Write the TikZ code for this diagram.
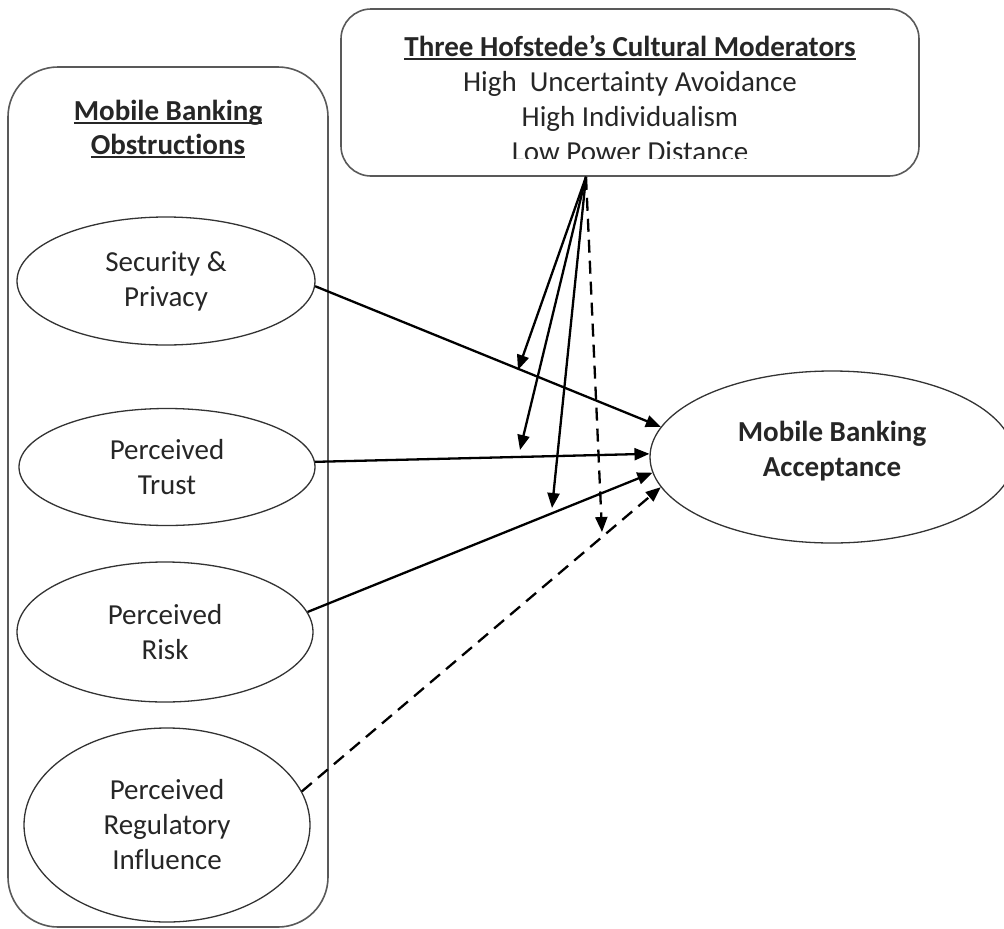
\documentclass[tikz,border=0pt]{standalone}
\usepackage{fontspec}
\setmainfont{Carlito}[Ligatures={NoCommon}]
\usetikzlibrary{arrows.meta,shapes.geometric,calc}
\newcommand\myul[1]{\setbox0\hbox{#1}\rlap{\rule[-3.5pt]{\wd0}{1.6pt}}\box0}
\begin{document}
\begin{tikzpicture}[x=1pt,y=-1pt,
  txt/.style={font=\fontsize{29}{35}\selectfont, text=black!85, align=center},
  frame/.style={draw=black!65, line width=1.6pt, rounded corners=#1},
  oval/.style={ellipse, draw=black!80, line width=1.3pt, inner sep=0pt, txt},
  link/.style={draw=black, line width=2.3pt, -{Triangle[length=15pt,width=12pt]}},
  dlink/.style={link, dash pattern=on 13pt off 8pt},
]
\useasboundingbox (0,0) rectangle (1004,929);

% frames
\node[frame=50pt, minimum width=320pt, minimum height=860pt] (obs) at (168,497) {};
\node[txt, font=\fontsize{29}{34}\selectfont\bfseries] (obstitle) at (168,129)
  {\myul{Mobile Banking}\\\myul{Obstructions}};

\node[frame=30pt, minimum width=578pt, minimum height=167pt] (mod) at (630,92.5) {};
\begin{scope}
  \clip (341,9) rectangle (919,158);
  \node[txt] (modtext) at (630,98.5)
    {\textbf{\myul{Three Hofstede’s Cultural Moderators}}\\
     High\ \ Uncertainty Avoidance\\
     High Individualism\\
     Low Power Distance};
\end{scope}

% ellipses
\node[oval, minimum width=298pt, minimum height=128pt] (sec) at (166,281) {Security \&\\Privacy};
\node[oval, minimum width=296pt, minimum height=117pt] (tru) at (167,467) {Perceived\\Trust};
\node[oval, minimum width=296pt, minimum height=140pt] (rsk) at (165,632) {Perceived\\Risk};
\node[oval, minimum width=286pt, minimum height=194pt] (reg) at (167,825) {Perceived\\Regulatory\\Influence};
\node[oval, font=\fontsize{29}{35}\selectfont\bfseries, text depth=17pt, minimum width=364pt, minimum height=172pt] (acc) at (832,457)
  {Mobile Banking\\Acceptance};

% main paths
\draw[link]  (sec.-2) -- (acc.170);
\draw[link]  (tru.2)  -- (acc.179);
\draw[link]  (rsk.8)  -- (acc.185);
\draw[dlink] (reg.14) -- (acc.190);

% moderator fan
\coordinate (fan) at ([xshift=-44pt]mod.south);
\coordinate (m1) at (518,370);
\coordinate (m2) at (520,450);
\coordinate (m3) at (552,508);
\coordinate (m4) at (602,532);
\draw[link]  (fan) -- (m1);
\draw[link]  (fan) -- (m2);
\draw[link]  (fan) -- (m3);
\draw[dlink] (fan) -- (m4);
\end{tikzpicture}
\end{document}
